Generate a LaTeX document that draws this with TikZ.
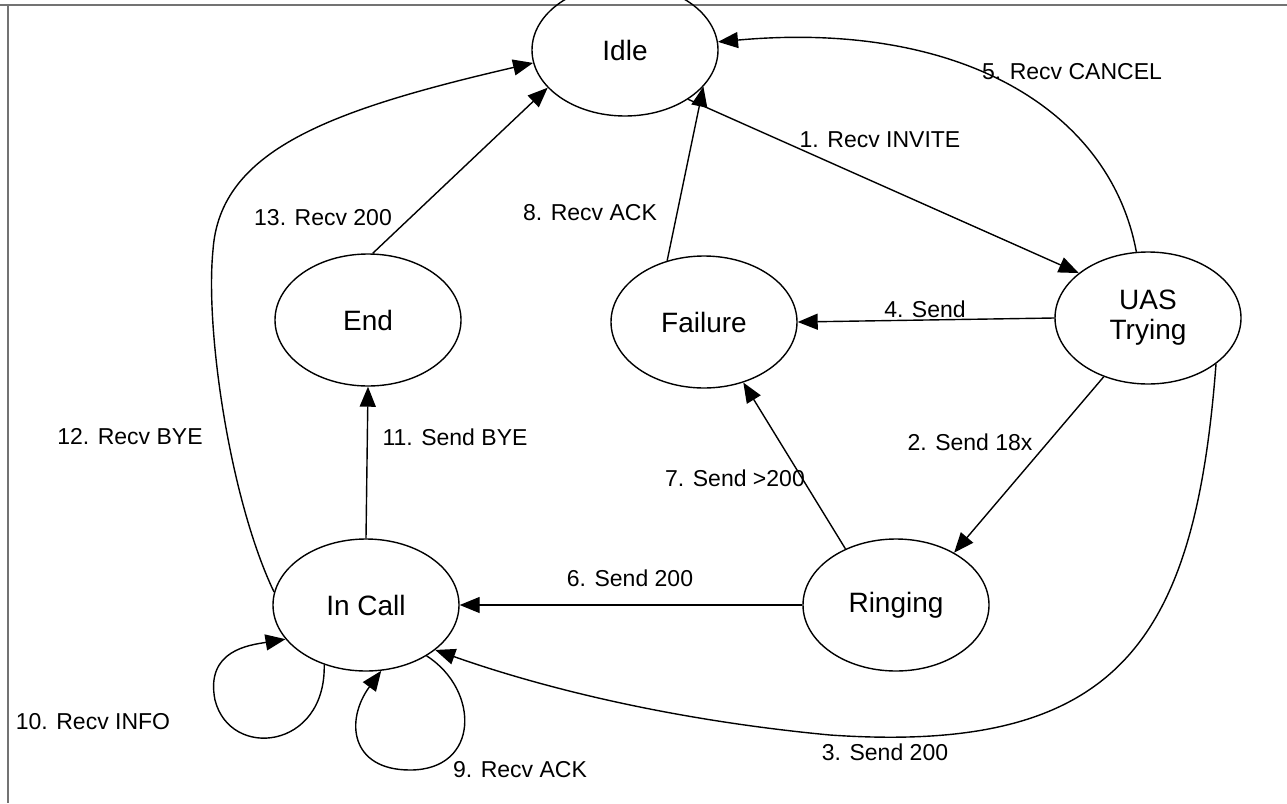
\documentclass[tikz,border=0pt]{standalone}
\usepackage{fontspec}
\setmainfont{Liberation Sans}
\usetikzlibrary{shapes.geometric,arrows.meta}
\begin{document}
\begin{tikzpicture}[x=1pt,y=-1pt,
  state/.style={draw,ellipse,line width=1.4pt,minimum width=186pt,minimum height=132pt,inner sep=0pt,font=\fontsize{28}{32}\selectfont,align=center},
  trans/.style={line width=1.4pt,-{Triangle[length=20pt,width=16pt]}},
  lbl/.style={font=\fontsize{23}{26}\selectfont,inner sep=0pt},
  frame/.style={draw=black!55,line width=2pt}]
\useasboundingbox (0,0) rectangle (1287,803);
\draw[frame] (0,5) -- (1287,5);
\draw[frame] (8,5) -- (8,803);
% states
\node[state] (idle) at (625,50) {Idle};
\node[state] (uas) at (1148,318) {UAS\\[-2pt]Trying};
\node[state] (fail) at (704,322) {Failure};
\node[state] (end) at (368,320) {End};
\node[state] (incall) at (366,605) {In Call};
\node[state] (ring) at (896,605) {Ringing};
\coordinate (b12) at (213,250);
\coordinate (b3) at (830,735);
% transitions
\draw[trans] (idle.-38) -- (uas.147);
\draw[trans] (uas.-127) -- (ring.42);
\draw[trans] (uas.-34) .. controls (1195,640) and (1120,755) .. (b3) .. controls (650,718) and (520,680) .. (incall.-33);
\draw[trans] (uas.180) -- (fail.0);
\draw[trans] (uas.100) .. controls (1110,110) and (960,20) .. (idle.5);
\draw[trans] (ring.180) -- (incall.0);
\draw[trans] (ring.132) -- (fail.-57);
\draw[trans] (fail.121) -- (idle.-25);
\draw[trans] (incall.-40) .. controls (480,690) and (480,770) .. (410,770) .. controls (350,770) and (345,720) .. (incall.-77);
\draw[trans] (incall.-125) .. controls (326,750) and (230,760) .. (215,700) .. controls (205,650) and (250,645) .. (incall.-157);
\draw[trans] (incall.90) -- (end.-90);
\draw[trans] (incall.172) .. controls (230,500) and (205,330) .. (b12) .. controls (220,150) and (330,110) .. (idle.-172);
\draw[trans] (end.86) -- (idle.-154);
% labels
\node[lbl] (l1) at (880,140) {1. Recv INVITE};
\node[lbl] (l2) at (970,442) {2. Send 18x};
\node[lbl] (l3) at (885,752) {3. Send 200};
\node[lbl] (l4) at (925,309) {4. Send};
\node[lbl] (l5) at (1072,72) {5. Recv CANCEL};
\node[lbl] (l6) at (630,578) {6. Send 200};
\node[lbl] (l7) at (735,478) {7. Send >200};
\node[lbl] (l8) at (590,213) {8. Recv ACK};
\node[lbl] (l9) at (520,770) {9. Recv ACK};
\node[lbl] (l10) at (93,722) {10. Recv INFO};
\node[lbl] (l11) at (455,437) {11. Send BYE};
\node[lbl] (l12) at (130,437) {12. Recv BYE};
\node[lbl] (l13) at (323,218) {13. Recv 200};
\end{tikzpicture}
\end{document}
